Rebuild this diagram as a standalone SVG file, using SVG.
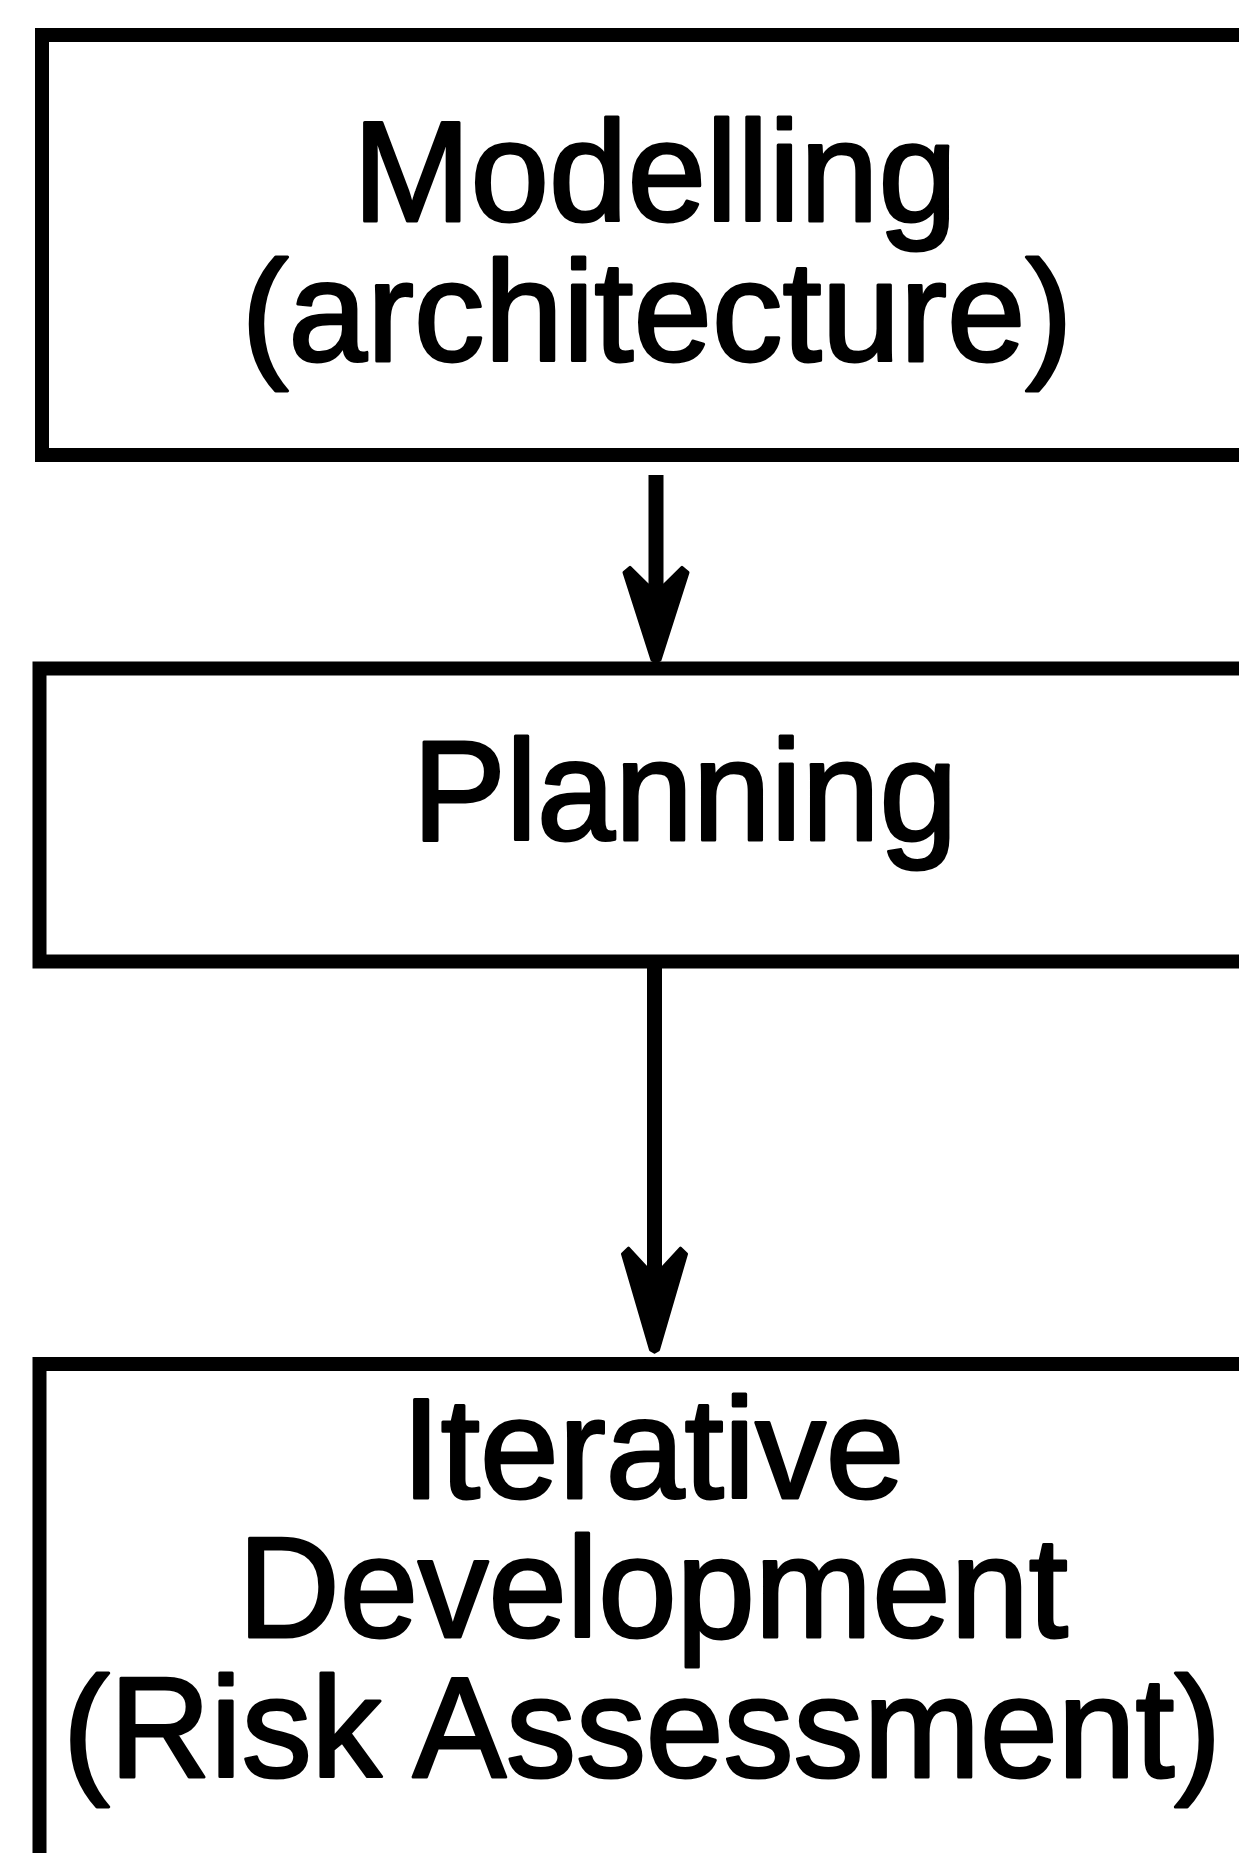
<svg xmlns="http://www.w3.org/2000/svg" xmlns:xlink="http://www.w3.org/1999/xlink" width="1239" height="1853" viewBox="0 0 1239 1853">
  <style>
    .box { fill: #ffffff; stroke: #000000; stroke-width: 14; }
    .label { font-family: "Liberation Sans", Arial, Helvetica, sans-serif; font-size: 142px; fill: #000000; stroke: #000000; stroke-width: 3; stroke-linejoin: round; text-anchor: middle; }
    .shaft { stroke: #000000; stroke-width: 15; fill: none; }
    .head { fill: #000000; stroke: #000000; stroke-width: 3; stroke-linejoin: round; }
  </style>
  <defs>
    <!-- barbed arrowhead, tip at the origin, pointing down -->
    <path id="arrowhead" d="M0,0 L-4,-2 L-32,-86 L-26,-91 L-8,-74 L8,-74 L26,-91 L32,-86 L4,-2 Z"/>
  </defs>

  <rect width="1239" height="1853" fill="#ffffff"/>

  <g id="node-modelling">
    <rect class="box" x="42" y="35" width="1230" height="420"/>
    <text class="label" x="655" y="221" textLength="604" lengthAdjust="spacingAndGlyphs">Modelling</text>
    <text class="label" x="657" y="361" textLength="831" lengthAdjust="spacingAndGlyphs">(architecture)</text>
  </g>

  <g id="node-planning">
    <rect class="box" x="39.5" y="668.5" width="1232" height="293"/>
    <text class="label" x="685" y="840" textLength="545" lengthAdjust="spacingAndGlyphs">Planning</text>
  </g>

  <g id="node-iterative">
    <rect class="box" x="39.5" y="1364" width="1232" height="540"/>
    <text class="label" x="653" y="1498" textLength="503" lengthAdjust="spacingAndGlyphs">Iterative</text>
    <text class="label" x="653" y="1637" textLength="830" lengthAdjust="spacingAndGlyphs">Development</text>
    <text class="label" x="642" y="1777" textLength="1158" lengthAdjust="spacingAndGlyphs">(Risk Assessment)</text>
  </g>

  <g id="connectors">
    <line class="shaft" x1="656" y1="475" x2="656" y2="600"/>
    <use xlink:href="#arrowhead" class="head" transform="translate(656,662) scale(1,1.04)"/>
    <line class="shaft" x1="654.5" y1="962" x2="654.5" y2="1290"/>
    <use xlink:href="#arrowhead" class="head" transform="translate(654.5,1352) scale(1,1.14)"/>
  </g>
</svg>
